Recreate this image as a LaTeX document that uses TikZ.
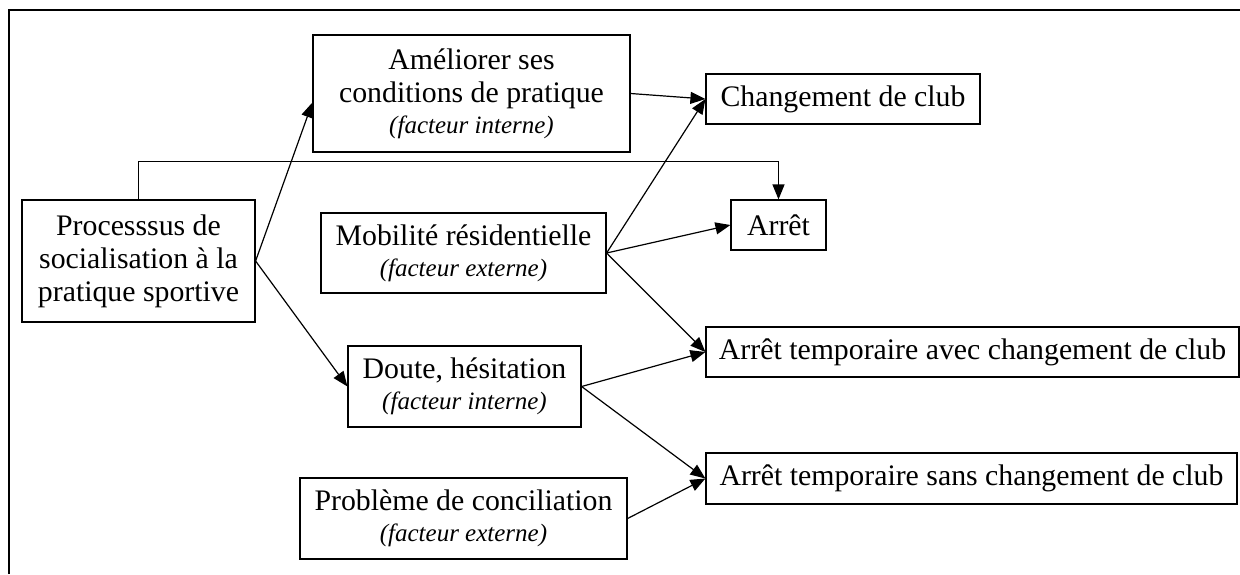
\documentclass[tikz,border=0pt]{standalone}
\usepackage{fontspec}
\setmainfont{Liberation Serif}
\usetikzlibrary{arrows.meta}
\newcommand{\fct}[1]{{\fontsize{12.5}{15}\selectfont\itshape #1}}
\begin{document}
\begin{tikzpicture}[x=0.5pt,y=-0.5pt,
  box/.style={draw,line width=0.6pt,inner sep=0pt,align=center,
    font=\fontsize{14.9}{16.5}\selectfont},
  arr/.style={-{Triangle[length=7.5pt,width=6pt]},line width=0.6pt}]
\useasboundingbox (0,0) rectangle (1240,574);
\draw[line width=0.7pt] (9,574) -- (9,10) -- (1240,10);
\node[box,minimum width=233*0.5pt,minimum height=122*0.5pt] (proc) at (138.5,261)
  {Processsus de\\socialisation à la\\pratique sportive};
\node[box,minimum width=317*0.5pt,minimum height=117*0.5pt] (ame) at (471.5,93.5)
  {Améliorer ses\\conditions de pratique\\[-1pt]\fct{(facteur interne)}};
\node[box,minimum width=274*0.5pt,minimum height=50*0.5pt] (chg) at (843,99)
  {Changement de club};
\node[box,minimum width=95*0.5pt,minimum height=50*0.5pt] (arret) at (778.5,225)
  {Arrêt};
\node[box,minimum width=285*0.5pt,minimum height=80*0.5pt] (mob) at (463.5,253)
  {Mobilité résidentielle\\[-1pt]\fct{(facteur externe)}};
\node[box,minimum width=233*0.5pt,minimum height=81*0.5pt] (doute) at (464.5,386.5)
  {Doute, hésitation\\[-1pt]\fct{(facteur interne)}};
\node[box,minimum width=533*0.5pt,minimum height=50*0.5pt] (avec) at (972.5,352)
  {Arrêt temporaire avec changement de club};
\node[box,minimum width=531*0.5pt,minimum height=51*0.5pt] (sans) at (971.5,478.5)
  {Arrêt temporaire sans changement de club};
\node[box,minimum width=327*0.5pt,minimum height=81*0.5pt] (prob) at (463.5,518.5)
  {Problème de conciliation\\[-1pt]\fct{(facteur externe)}};
\draw[arr] (proc.east) -- ([yshift=-4.5pt]ame.west);
\draw[arr] (proc.east) -- (doute.west);
\draw[arr] (ame.east) -- (chg.west);
\draw[arr] (mob.east) -- (chg.west);
\draw[arr] (mob.east) -- (arret.west);
\draw[arr] (mob.east) -- (avec.west);
\draw[arr] (doute.east) -- (avec.west);
\draw[arr] (doute.east) -- (sans.west);
\draw[arr] (prob.east) -- (sans.west);
\draw[arr] (proc.north) -- ++(0,-38) -| (arret.north);
\end{tikzpicture}
\end{document}
